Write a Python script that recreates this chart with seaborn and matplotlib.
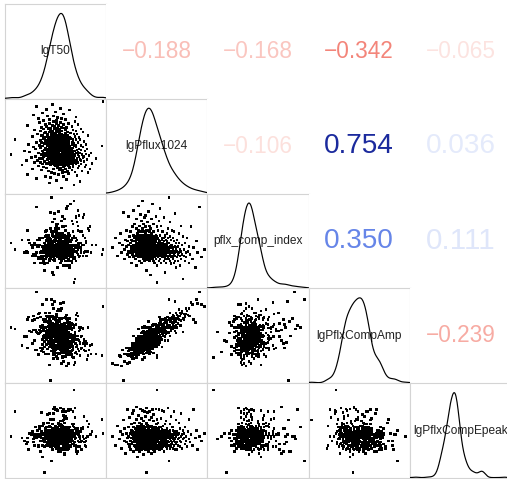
import matplotlib
matplotlib.use("Agg")
import matplotlib.pyplot as plt
import pandas as pd
import seaborn as sns
from matplotlib.colors import LinearSegmentedColormap

VARIABLES = ["lgT50", "lgPflux1024", "pflx_comp_index", "lgPflxCompAmp", "lgPflxCompEpeak"]

# values expressed as position inside each panel (0-100 of the axis span)
lgT50 = [
    56, 68, 44, 74, 51, 61, 31, 45, 58, 40, 71, 53, 22, 63, 49, 82, 57, 46, 69, 60,
    43, 62, 76, 54, 36, 66, 57, 84, 48, 60, 27, 72, 55, 64, 41, 52, 79, 58, 67, 38,
    64, 50, 33, 59, 73, 45, 67, 56, 17, 61, 80, 49, 66, 42, 57, 70, 53, 37, 75, 62,
    54, 67, 41, 60, 86, 48, 58, 29, 63, 72, 44, 55, 68, 35, 59, 78, 51, 62, 46, 71,
    59, 39, 69, 53, 65, 32, 75, 56, 47, 66, 61, 21, 70, 50, 58, 42, 81, 63, 54, 68,
    49, 74, 60, 37, 55, 67, 45, 90, 59, 52, 64, 34, 71, 57, 43, 62, 77, 51, 26, 66,
    61, 47, 68, 55, 38, 78, 58, 50, 65, 30, 62, 73, 53, 42, 69, 57, 46, 83, 60, 39,
    52, 66, 43, 58, 72, 48, 6, 63, 55, 76, 36, 60, 68, 47, 57, 80, 40, 64, 53, 50,
    69, 55, 41, 62, 50, 74, 33, 58, 67, 45, 53, 85, 60, 38, 70, 52, 59, 24, 65, 48,
    57, 44, 72, 53, 61, 37, 66, 79, 50, 59, 43, 69, 19, 55, 63, 40, 75, 52, 65, 46,
    45, 61, 52, 71, 39, 58, 65, 49, 81, 55, 30, 63, 51, 73, 42, 57, 67, 35, 54, 60,
    58, 50, 40, 65, 55, 77, 46, 61, 28, 52, 70, 48, 59, 37, 64, 54, 96, 43, 57, 68,
    47, 63, 55, 34, 70, 52, 60, 42, 75, 50, 62, 23, 56, 66, 45, 58, 80, 49, 39, 61,
    54, 42, 68, 57, 47, 62, 36, 72, 51, 59, 31, 66, 55, 44, 78, 52, 63, 40, 58, 49,
    41, 60, 50, 67, 35, 56, 45, 74, 52, 62, 10, 48, 57, 70, 43, 54, 65, 38, 59, 47,
    55, 44, 64, 50, 73, 39, 57, 47, 27, 61, 52, 69, 42, 55, 82, 49, 60, 36, 54, 46,
    48, 58, 37, 62, 52, 68, 42, 56, 32, 50, 71, 46, 60, 54, 39, 65, 48, 77, 51, 44,
    62, 40, 53, 47, 70, 35, 56, 45, 60, 29, 51, 67, 43, 54, 75, 49, 38, 58, 44, 52,
    45, 56, 36, 61, 49, 66, 41, 53, 22, 47, 58, 72, 40, 51, 44, 63, 34, 55, 48, 69,
    51, 38, 60, 44, 56, 33, 52, 70, 42, 48, 28, 58, 37, 50, 64, 41, 55, 31, 47, 97,
    52, 58, 47, 63, 55, 49, 60, 44, 57, 53, 66, 50, 56, 61, 46, 54, 59, 51, 64, 48,
    57, 45, 62, 51, 67, 54, 43, 59, 50, 56, 48, 63, 53, 41, 58, 52, 65, 47, 55, 60,
    50, 61, 55, 46, 58, 52, 64, 49, 56, 42, 60, 53, 47, 57, 62, 51, 45, 59, 54, 66,
    55, 48, 63, 52, 57, 44, 60, 50, 65, 54, 47, 58, 51, 62, 43, 56, 53, 61, 49, 57,
    59, 53, 46, 62, 50, 57, 44, 55, 61, 48, 52, 66, 56, 42, 58, 51, 63, 54, 47, 60,
    54, 47, 60, 52, 65, 49, 56, 43, 58, 53, 62, 45, 57, 51, 64, 55, 48, 59, 52, 46,
    51, 58, 44, 63, 55, 48, 60, 53, 46, 57, 67, 50, 54, 41, 61, 56, 49, 64, 52, 58,
    56, 50, 62, 45, 58, 53, 47, 60, 55, 65, 49, 57, 52, 43, 59, 54, 46, 61, 50, 56,
    53, 59, 48, 64, 51, 56, 44, 61, 55, 50, 58, 47, 63, 54, 42, 57, 52, 60, 49, 55,
    57, 51, 46, 62, 54, 48, 59, 53, 66, 50, 56, 45, 61, 52, 58, 43, 55, 63, 49, 54,
]

lgPflux1024 = [
    6, 9, 11, 13, 14, 15, 16, 17, 18, 18, 19, 20, 20, 21, 21, 22, 22, 22, 23, 23,
    24, 24, 24, 25, 25, 25, 25, 26, 26, 26, 26, 27, 27, 27, 27, 27, 28, 28, 28, 28,
    28, 29, 29, 29, 29, 30, 30, 30, 30, 30, 30, 30, 31, 31, 31, 31, 31, 31, 31, 32,
    32, 32, 32, 32, 32, 32, 32, 33, 33, 33, 33, 33, 33, 33, 33, 34, 34, 34, 34, 34,
    34, 34, 34, 35, 35, 35, 35, 35, 35, 35, 35, 35, 35, 36, 36, 36, 36, 36, 36, 36,
    36, 36, 36, 37, 37, 37, 37, 37, 37, 37, 37, 37, 37, 38, 38, 38, 38, 38, 38, 38,
    38, 38, 38, 39, 39, 39, 39, 39, 39, 39, 39, 39, 39, 40, 40, 40, 40, 40, 40, 40,
    40, 40, 40, 40, 41, 41, 41, 41, 41, 41, 41, 41, 41, 41, 42, 42, 42, 42, 42, 42,
    42, 42, 42, 42, 42, 43, 43, 43, 43, 43, 43, 43, 43, 43, 43, 44, 44, 44, 44, 44,
    44, 44, 44, 44, 44, 45, 45, 45, 45, 45, 45, 45, 45, 45, 45, 46, 46, 46, 46, 46,
    46, 46, 46, 46, 46, 47, 47, 47, 47, 47, 47, 47, 47, 47, 47, 48, 48, 48, 48, 48,
    48, 48, 48, 48, 49, 49, 49, 49, 49, 49, 49, 49, 49, 50, 50, 50, 50, 50, 50, 50,
    50, 51, 51, 51, 51, 51, 51, 51, 51, 52, 52, 52, 52, 52, 52, 52, 52, 53, 53, 53,
    53, 53, 53, 53, 53, 54, 54, 54, 54, 54, 54, 54, 54, 55, 55, 55, 55, 55, 55, 55,
    56, 56, 56, 56, 56, 56, 56, 57, 57, 57, 57, 57, 57, 57, 58, 58, 58, 58, 58, 58,
    58, 59, 59, 59, 59, 59, 59, 60, 60, 60, 60, 60, 60, 61, 61, 61, 61, 61, 61, 62,
    62, 62, 62, 62, 62, 63, 63, 63, 63, 63, 63, 64, 64, 64, 64, 64, 64, 65, 65, 65,
    65, 65, 66, 66, 66, 66, 66, 67, 67, 67, 67, 67, 68, 68, 68, 68, 68, 69, 69, 69,
    69, 70, 70, 70, 71, 71, 71, 72, 72, 72, 73, 73, 73, 74, 74, 74, 75, 75, 76, 76,
    77, 77, 78, 78, 79, 79, 80, 81, 82, 82, 83, 84, 85, 86, 88, 89, 90, 92, 94, 97,
    38, 45, 33, 50, 41, 36, 55, 43, 30, 47, 39, 58, 35, 44, 52, 40, 32, 48, 42, 37,
    44, 31, 49, 36, 57, 42, 39, 53, 34, 46, 40, 29, 51, 43, 37, 60, 45, 33, 41, 48,
    35, 47, 42, 54, 38, 44, 31, 50, 40, 46, 56, 36, 43, 49, 33, 52, 39, 45, 58, 41,
    46, 39, 52, 34, 44, 48, 37, 55, 42, 30, 50, 43, 38, 47, 59, 41, 35, 45, 53, 40,
    43, 51, 36, 48, 40, 33, 57, 45, 38, 52, 29, 44, 49, 41, 35, 54, 46, 39, 50, 42,
    37, 45, 53, 40, 32, 47, 42, 58, 36, 44, 50, 39, 34, 48, 43, 56, 41, 31, 46, 51,
    42, 35, 49, 44, 38, 55, 40, 47, 33, 52, 45, 37, 57, 43, 39, 48, 30, 44, 41, 54,
    46, 40, 34, 51, 43, 37, 48, 56, 41, 45, 32, 50, 39, 47, 53, 36, 44, 42, 58, 38,
    41, 49, 36, 44, 54, 39, 46, 33, 52, 43, 38, 47, 55, 40, 45, 35, 50, 42, 37, 48,
    44, 38, 51, 35, 47, 42, 57, 40, 46, 31, 53, 43, 39, 49, 36, 45, 60, 41, 48, 34,
]

pflx_comp_index = [
    43, 53, 34, 48, 58, 38, 46, 80, 41, 31, 51, 44, 61, 36, 50, 39, 76, 46, 33, 55,
    48, 38, 60, 41, 27, 51, 44, 65, 36, 50, 43, 82, 39, 56, 33, 46, 53, 41, 68, 34,
    39, 50, 31, 55, 44, 63, 36, 43, 51, 24, 48, 73, 41, 34, 58, 46, 38, 53, 43, 87,
    51, 41, 61, 36, 46, 33, 56, 48, 39, 66, 29, 44, 53, 38, 50, 78, 43, 34, 60, 46,
    36, 48, 43, 56, 33, 51, 41, 71, 46, 27, 55, 39, 50, 63, 38, 44, 34, 53, 43, 92,
    44, 34, 55, 39, 50, 60, 31, 46, 41, 68, 36, 51, 43, 33, 56, 48, 75, 38, 46, 29,
    50, 39, 33, 58, 44, 38, 65, 43, 51, 34, 46, 77, 39, 53, 31, 48, 41, 61, 36, 19,
    38, 53, 43, 31, 61, 41, 48, 36, 56, 46, 33, 51, 39, 70, 44, 34, 55, 43, 81, 50,
    46, 33, 51, 39, 36, 60, 44, 55, 31, 41, 50, 38, 66, 43, 29, 53, 39, 48, 34, 14,
    41, 48, 36, 63, 43, 33, 53, 39, 46, 73, 34, 44, 38, 51, 58, 31, 43, 50, 89, 39,
    34, 44, 55, 38, 48, 41, 29, 60, 39, 50, 36, 46, 68, 33, 43, 53, 39, 27, 51, 44,
    48, 36, 41, 51, 31, 56, 43, 38, 46, 34, 76, 39, 50, 44, 24, 55, 36, 41, 65, 6,
    39, 46, 33, 53, 43, 38, 61, 34, 48, 41, 29, 51, 39, 71, 36, 44, 50, 31, 43, 84,
    36, 50, 41, 31, 56, 44, 34, 48, 39, 66, 38, 43, 27, 53, 46, 33, 41, 60, 36, 51,
    44, 34, 39, 60, 38, 48, 33, 43, 53, 29, 41, 50, 36, 75, 39, 31, 46, 38, 56, 17,
    33, 43, 51, 36, 46, 27, 41, 58, 34, 44, 39, 31, 50, 38, 63, 43, 33, 53, 41, 96,
    41, 31, 38, 48, 34, 55, 39, 29, 44, 36, 70, 33, 43, 51, 26, 39, 46, 34, 61, 38,
    38, 46, 33, 41, 53, 31, 43, 36, 50, 27, 39, 60, 34, 44, 38, 79, 29, 41, 48, 22,
    43, 33, 39, 51, 29, 44, 36, 58, 38, 48, 24, 41, 34, 66, 39, 31, 46, 36, 55, 10,
    34, 41, 29, 48, 38, 33, 53, 39, 27, 44, 36, 65, 31, 43, 22, 50, 38, 86, 33, 41,
    40, 46, 35, 52, 43, 38, 48, 31, 44, 41, 36, 55, 42, 39, 47, 33, 45, 41, 50, 37,
    43, 38, 49, 34, 45, 40, 53, 36, 42, 47, 30, 44, 39, 56, 41, 46, 35, 43, 38, 51,
    37, 44, 50, 41, 33, 46, 39, 54, 42, 35, 48, 40, 45, 31, 43, 38, 52, 36, 47, 42,
    45, 39, 42, 47, 36, 51, 43, 38, 49, 44, 34, 41, 53, 37, 46, 40, 48, 32, 43, 39,
    41, 36, 46, 43, 52, 38, 44, 33, 48, 40, 45, 37, 50, 42, 35, 47, 39, 55, 41, 44,
    47, 40, 35, 44, 41, 49, 37, 43, 54, 39, 46, 42, 34, 45, 51, 38, 43, 40, 36, 48,
    39, 45, 42, 36, 48, 41, 53, 37, 44, 40, 33, 46, 43, 38, 50, 35, 44, 41, 47, 39,
    43, 50, 38, 45, 35, 47, 41, 44, 52, 39, 46, 37, 42, 55, 40, 48, 36, 43, 41, 45,
    46, 38, 43, 51, 40, 44, 36, 42, 48, 34, 45, 40, 43, 37, 53, 41, 46, 39, 44, 33,
    40, 47, 42, 38, 49, 35, 44, 41, 37, 46, 42, 50, 39, 45, 33, 43, 48, 36, 41, 52,
]

lgPflxCompAmp = [
    21, 19, 19, 29, 28, 18, 35, 3, 23, 31, 31, 31, 37, 21, 30, 29, 37, 34, 22, 35,
    31, 35, 37, 32, 37, 28, 28, 40, 26, 28, 42, 50, 35, 30, 41, 26, 34, 39, 37, 33,
    37, 35, 30, 42, 34, 47, 27, 41, 40, 30, 34, 45, 31, 36, 37, 46, 37, 41, 37, 57,
    37, 35, 49, 34, 41, 30, 39, 45, 44, 36, 38, 41, 44, 37, 38, 43, 37, 33, 47, 40,
    37, 38, 42, 43, 33, 53, 36, 49, 49, 34, 35, 49, 33, 54, 39, 49, 25, 38, 47, 59,
    40, 42, 36, 46, 46, 47, 40, 31, 44, 55, 34, 53, 39, 27, 60, 39, 42, 47, 54, 35,
    49, 39, 45, 42, 48, 35, 49, 51, 44, 35, 48, 59, 40, 49, 32, 41, 48, 35, 44, 44,
    37, 49, 42, 47, 46, 38, 59, 44, 42, 50, 34, 49, 48, 55, 36, 43, 59, 40, 65, 45,
    51, 36, 53, 45, 50, 43, 52, 49, 35, 51, 49, 31, 49, 50, 38, 56, 37, 55, 49, 33,
    42, 59, 36, 57, 52, 36, 56, 40, 49, 56, 50, 49, 49, 52, 53, 51, 36, 55, 61, 44,
    49, 40, 56, 50, 51, 51, 32, 62, 42, 49, 56, 49, 57, 45, 53, 53, 39, 54, 52, 56,
    47, 50, 55, 50, 43, 58, 50, 55, 56, 44, 62, 41, 51, 61, 39, 60, 29, 54, 60, 27,
    51, 48, 58, 56, 42, 56, 58, 54, 49, 54, 41, 70, 59, 63, 46, 47, 44, 51, 65, 68,
    57, 56, 46, 51, 70, 47, 55, 46, 56, 62, 54, 58, 48, 60, 46, 62, 38, 67, 52, 60,
    54, 59, 56, 51, 60, 62, 54, 56, 53, 59, 57, 56, 56, 67, 64, 53, 49, 57, 69, 45,
    56, 55, 68, 53, 55, 59, 52, 63, 66, 60, 54, 53, 70, 45, 59, 70, 53, 60, 61, 88,
    53, 59, 61, 67, 54, 61, 65, 50, 69, 59, 74, 57, 55, 68, 65, 58, 57, 57, 70, 68,
    64, 59, 61, 60, 72, 70, 57, 64, 59, 67, 71, 58, 60, 68, 59, 86, 55, 61, 74, 53,
    65, 68, 59, 72, 68, 63, 71, 78, 67, 71, 61, 71, 74, 73, 66, 61, 74, 76, 68, 54,
    73, 67, 70, 71, 79, 73, 76, 72, 71, 79, 71, 85, 83, 67, 64, 88, 84, 96, 83, 81,
    45, 45, 37, 61, 45, 33, 59, 44, 34, 57, 38, 67, 32, 50, 53, 47, 32, 51, 51, 41,
    44, 43, 53, 40, 62, 43, 44, 54, 39, 43, 45, 32, 56, 50, 48, 62, 40, 45, 38, 55,
    44, 46, 42, 58, 37, 56, 30, 60, 38, 53, 57, 47, 44, 45, 36, 60, 50, 39, 65, 41,
    43, 45, 54, 40, 52, 50, 45, 55, 52, 31, 52, 45, 52, 42, 64, 33, 50, 41, 54, 46,
    48, 43, 49, 48, 47, 42, 59, 39, 54, 54, 32, 47, 49, 51, 35, 66, 37, 51, 55, 43,
    41, 52, 43, 49, 41, 52, 45, 55, 45, 51, 46, 53, 37, 48, 57, 50, 41, 38, 53, 54,
    48, 39, 61, 37, 46, 58, 44, 54, 40, 46, 44, 50, 56, 46, 51, 42, 38, 38, 51, 54,
    44, 51, 37, 60, 42, 36, 54, 57, 44, 52, 36, 51, 48, 56, 45, 44, 55, 40, 59, 42,
    52, 45, 44, 48, 64, 37, 48, 40, 50, 50, 41, 41, 58, 44, 51, 46, 46, 47, 49, 46,
    44, 52, 49, 39, 56, 35, 63, 41, 45, 35, 56, 59, 38, 54, 34, 56, 54, 43, 54, 39,
]

lgPflxCompEpeak = [
    44, 34, 55, 41, 49, 31, 46, 61, 39, 52, 26, 47, 38, 72, 42, 54, 36, 44, 64, 33,
    47, 39, 30, 50, 42, 57, 36, 46, 68, 38, 49, 28, 44, 54, 41, 71, 34, 46, 39, 58,
    41, 52, 33, 44, 38, 62, 47, 30, 42, 50, 39, 75, 36, 46, 55, 34, 44, 22, 49, 41,
    36, 46, 54, 31, 49, 41, 66, 44, 34, 52, 42, 28, 47, 39, 58, 38, 73, 46, 33, 50,
    49, 38, 44, 57, 34, 46, 39, 30, 52, 42, 63, 36, 47, 41, 31, 50, 44, 71, 38, 54,
    42, 33, 47, 39, 60, 36, 50, 44, 25, 46, 38, 55, 49, 70, 34, 42, 52, 31, 46, 39,
    39, 50, 36, 46, 42, 65, 33, 47, 41, 54, 30, 44, 38, 49, 74, 39, 34, 57, 46, 6,
    46, 41, 58, 34, 47, 38, 44, 31, 50, 39, 69, 42, 36, 46, 55, 33, 49, 41, 28, 52,
    38, 47, 42, 30, 52, 44, 34, 61, 39, 49, 36, 46, 70, 41, 31, 54, 42, 47, 38, 44,
    50, 36, 46, 41, 33, 55, 44, 38, 47, 26, 42, 64, 39, 49, 34, 44, 52, 31, 72, 41,
    44, 54, 34, 47, 39, 30, 50, 42, 60, 36, 46, 41, 33, 49, 67, 38, 44, 28, 47, 39,
    33, 42, 49, 38, 57, 44, 36, 47, 41, 31, 52, 73, 39, 46, 34, 42, 62, 38, 49, 93,
    47, 39, 31, 52, 42, 34, 46, 58, 38, 49, 41, 30, 44, 36, 54, 72, 42, 47, 33, 44,
    41, 49, 38, 44, 30, 54, 47, 39, 34, 63, 42, 46, 36, 50, 41, 31, 71, 44, 38, 49,
    46, 36, 42, 55, 39, 47, 33, 44, 50, 38, 70, 41, 49, 28, 46, 36, 42, 57, 34, 47,
    39, 50, 44, 33, 47, 41, 60, 36, 46, 42, 31, 52, 38, 74, 44, 34, 49, 39, 46, 18,
    49, 42, 34, 46, 38, 57, 44, 31, 50, 41, 47, 36, 65, 39, 46, 33, 42, 54, 38, 44,
    36, 46, 41, 50, 31, 44, 54, 39, 47, 34, 42, 70, 38, 49, 30, 46, 41, 61, 36, 47,
    44, 38, 49, 30, 46, 41, 34, 58, 42, 47, 39, 33, 52, 44, 68, 38, 46, 31, 50, 41,
    42, 47, 36, 54, 39, 44, 33, 49, 41, 62, 38, 46, 34, 72, 42, 50, 30, 44, 39, 47,
    45, 39, 48, 42, 36, 46, 51, 43, 40, 47, 44, 38, 53, 41, 45, 49, 37, 44, 42, 35,
    41, 47, 38, 44, 50, 36, 43, 46, 55, 40, 45, 48, 34, 42, 47, 39, 44, 52, 37, 43,
    43, 49, 40, 45, 52, 38, 46, 41, 44, 37, 48, 45, 42, 54, 39, 44, 47, 33, 43, 50,
    46, 42, 51, 39, 44, 47, 35, 43, 49, 41, 45, 38, 46, 43, 40, 56, 44, 48, 36, 45,
    40, 45, 43, 50, 38, 46, 42, 47, 35, 44, 52, 41, 39, 46, 44, 37, 49, 43, 57, 40,
    44, 48, 41, 36, 46, 43, 50, 39, 45, 42, 47, 38, 44, 53, 41, 45, 34, 47, 42, 49,
    47, 42, 39, 45, 43, 48, 40, 51, 44, 38, 46, 42, 37, 49, 45, 43, 52, 40, 44, 46,
    43, 46, 41, 48, 39, 44, 47, 42, 36, 45, 50, 43, 47, 40, 44, 55, 42, 46, 38, 44,
    45, 41, 48, 43, 37, 46, 42, 49, 44, 40, 43, 51, 46, 39, 44, 47, 41, 36, 45, 43,
    42, 47, 44, 39, 45, 50, 41, 46, 43, 37, 48, 44, 40, 45, 53, 42, 46, 38, 44, 41,
]

# correlation coefficients printed in the upper triangle (row, column)
CORR_PAIRS = [(0, 1), (0, 2), (0, 3), (0, 4), (1, 2), (1, 3), (1, 4), (2, 3), (2, 4), (3, 4)]
CORR_VALUES = [-0.188, -0.168, -0.342, -0.065, -0.106, 0.754, 0.036, 0.350, 0.111, -0.239]

df = pd.DataFrame({
    "lgT50": lgT50,
    "lgPflux1024": lgPflux1024,
    "pflx_comp_index": pflx_comp_index,
    "lgPflxCompAmp": lgPflxCompAmp,
    "lgPflxCompEpeak": lgPflxCompEpeak,
})

sns.set_style("white")
plt.rcParams["font.family"] = ["Liberation Sans", "DejaVu Sans"]

# colour of the coefficient text, indexed by |r|
neg_cmap = LinearSegmentedColormap.from_list("neg", [
    (0.00, "#fde8e6"), (0.106, "#fce0dc"), (0.20, "#f9b9b2"),
    (0.342, "#f3857a"), (1.00, "#a00000")])
pos_cmap = LinearSegmentedColormap.from_list("pos", [
    (0.00, "#e7ecfc"), (0.111, "#dfe6fa"), (0.35, "#6685e8"),
    (0.754, "#1b2a9e"), (1.00, "#0a1058")])


def corr_color(r):
    return pos_cmap(abs(r)) if r >= 0 else neg_cmap(abs(r))


g = sns.PairGrid(df, vars=VARIABLES, height=1.0, aspect=1.0,
                 diag_sharey=False, despine=False)
g.map_lower(sns.scatterplot, color="black", marker="s", s=3.4,
            linewidth=0, edgecolor="none")
g.map_diag(sns.kdeplot, color="black", linewidth=0.85, cut=10, clip=(0, 100))

fig = g.figure
fig.set_dpi(100)
fig.set_size_inches(5.07, 4.79)
fig.subplots_adjust(left=5 / 507, right=511 / 507, bottom=1 - 478 / 479,
                    top=1 - 4 / 479, wspace=0, hspace=0)

FRAME = "#d4d4d4"
n = len(VARIABLES)
for i in range(n):
    for j in range(n):
        ax = g.axes[i, j]
        ax.set_xlim(0, 100)
        ax.set_ylim(0, 100)
        ax.set_xticks([])
        ax.set_yticks([])
        ax.set_xlabel("")
        ax.set_ylabel("")
        for sp in ax.spines.values():
            sp.set_color(FRAME)
            sp.set_linewidth(0.8)
            sp.set_visible(i >= j)

for k, dax in enumerate(g.diag_axes):
    ymax = max(line.get_ydata().max() for line in dax.get_lines())
    dax.set_ylim(-0.005 * ymax, ymax / 0.9)
    dax.set_xlim(0, 100)
    g.axes[k, k].text(0.5, 0.5, VARIABLES[k], transform=g.axes[k, k].transAxes,
                      ha="center", va="center", fontsize=8.6, color="#222222")

renderer = fig.canvas.get_renderer()
TARGET_PX = 70.0
for (i, j), r in zip(CORR_PAIRS, CORR_VALUES):
    ax = g.axes[i, j]
    label = f"{r:.3f}".replace("-", "\u2212")
    t = ax.text(0.5, 0.5, label, transform=ax.transAxes, ha="center", va="center",
                fontsize=20, color=corr_color(r))
    w = t.get_window_extent(renderer).width
    t.set_fontsize(20 * TARGET_PX / w)

fig.savefig("out.png", dpi=100)
